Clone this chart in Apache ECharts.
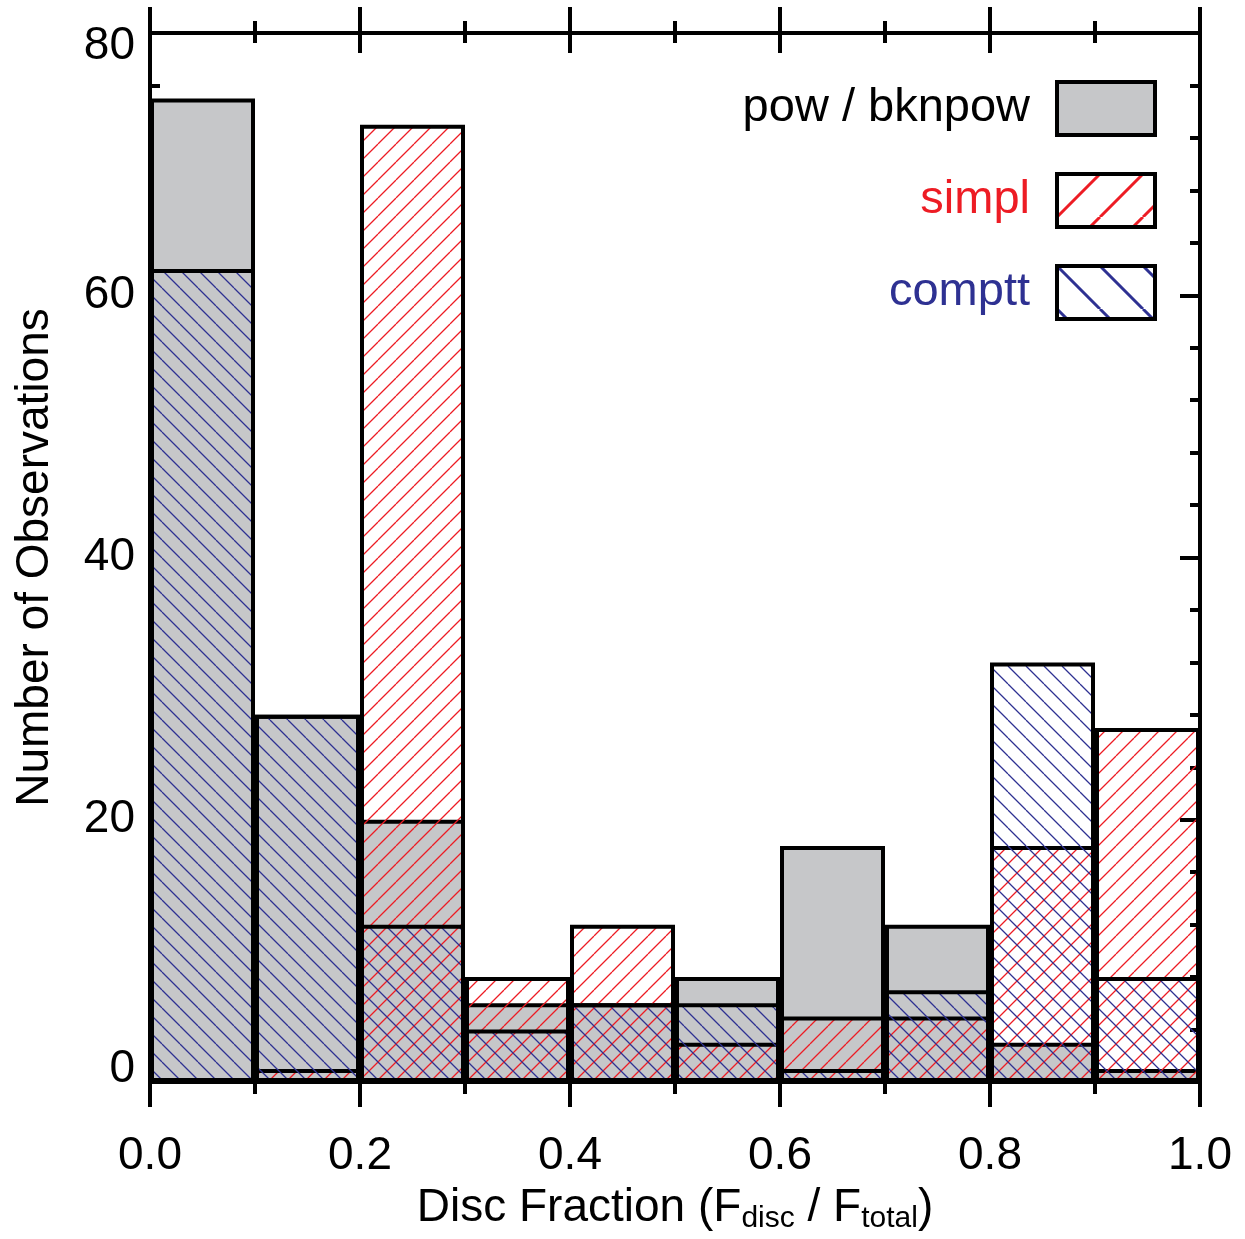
<!DOCTYPE html>
<html>
<head>
<meta charset="utf-8">
<script src="https://cdn.jsdelivr.net/npm/echarts@6/dist/echarts.min.js"></script>
<style>
html, body { margin: 0; padding: 0; background: #fff; }
#main { width: 1245px; height: 1239px; }
</style>
</head>
<body>
<div id="main"></div>
<script>
// histogram bins 0.0 - 1.0, step 0.1
var bins = ['0.0', '0.1', '0.2', '0.3', '0.4', '0.5', '0.6', '0.7', '0.8', '0.9'];
var powData = [75, 28, 20, 6, 6, 8, 18, 12, 3, 1];
var simplData = [0, 1, 73, 8, 12, 3, 5, 5, 18, 27];
var compttData = [62, 28, 12, 4, 6, 6, 1, 7, 32, 8];
var seriesNames = ['pow / bknpow', 'simpl', 'comptt'];

var GRAY = '#c6c7c9';
var RED = '#ed1c24';
var BLUE = '#2e3192';
var FONT = 'Liberation Sans';

// diagonal hatch pattern, dir 1 = '/', dir -1 = '\'
function hatch(color, step, width, dir) {
    var c = document.createElement('canvas');
    c.width = step;
    c.height = step;
    var ctx = c.getContext('2d');
    ctx.strokeStyle = color;
    ctx.lineWidth = width;
    ctx.beginPath();
    for (var k = -1; k <= 1; k++) {
        if (dir > 0) {
            ctx.moveTo(k * step, step);
            ctx.lineTo(k * step + step, 0);
        } else {
            ctx.moveTo(k * step, 0);
            ctx.lineTo(k * step + step, step);
        }
    }
    ctx.stroke();
    return { image: c, repeat: 'repeat' };
}

var dom = document.getElementById('main');
var myChart = echarts.init(dom);
var option = null;

var tickStyle = { width: 4, color: '#000' };

option = {
    animation: false,
    backgroundColor: '#fff',
    textStyle: { fontFamily: FONT },
    grid: { left: 150, right: 45, top: 33, bottom: 155 },
    legend: {
        orient: 'vertical',
        right: 88,
        top: 80,
        padding: 0,
        align: 'right',
        itemWidth: 98,
        itemHeight: 53,
        itemGap: 35,
        selectedMode: false,
        textStyle: { fontSize: 47, fontFamily: FONT, padding: [0, 22, 0, 0] },
        data: [
            { name: seriesNames[0], icon: 'rect', textStyle: { color: '#000' },
              itemStyle: { color: GRAY, borderColor: '#000', borderWidth: 4 } },
            { name: seriesNames[1], icon: 'rect', textStyle: { color: RED },
              itemStyle: { color: hatch(RED, 43, 3, 1), borderColor: '#000', borderWidth: 4 } },
            { name: seriesNames[2], icon: 'rect', textStyle: { color: BLUE },
              itemStyle: { color: hatch(BLUE, 43, 3, -1), borderColor: '#000', borderWidth: 4 } }
        ]
    },
    xAxis: [
        {
            type: 'category',
            data: bins,
            show: false,
            boundaryGap: true
        },
        {
            type: 'value',
            position: 'bottom',
            min: 0,
            max: 1,
            interval: 0.2,
            axisLine: { onZero: false, lineStyle: { color: '#000', width: 4 } },
            axisTick: { inside: false, length: 25, lineStyle: tickStyle },
            minorTick: { show: true, splitNumber: 2, length: 12, lineStyle: tickStyle },
            splitLine: { show: false },
            axisLabel: {
                fontSize: 46, color: '#000', fontFamily: FONT, margin: 51,
                formatter: function (v) { return v.toFixed(1); }
            },
            name: '{a|Disc Fraction (F}{s|disc}{a| / F}{s|total}{a|)}',
            nameLocation: 'middle',
            nameGap: 100,
            nameTextStyle: {
                rich: {
                    a: { fontSize: 46, color: '#000', fontFamily: FONT },
                    s: { fontSize: 30, color: '#000', fontFamily: FONT, padding: [22, 0, 0, 0] }
                }
            }
        },
        {
            type: 'value',
            position: 'top',
            min: 0,
            max: 1,
            interval: 0.2,
            axisLine: { onZero: false, lineStyle: { color: '#000', width: 4 } },
            axisTick: { inside: false, length: 26, lineStyle: tickStyle },
            minorTick: { show: true, splitNumber: 2, length: 12, lineStyle: tickStyle },
            splitLine: { show: false },
            axisLabel: { show: false }
        },
        {
            type: 'value',
            position: 'top',
            min: 0,
            max: 1,
            interval: 0.2,
            axisLine: { show: false, onZero: false },
            axisTick: { inside: true, length: 20, lineStyle: tickStyle },
            minorTick: { show: true, splitNumber: 2, length: 10, lineStyle: tickStyle },
            splitLine: { show: false },
            axisLabel: { show: false }
        }
    ],
    yAxis: [
        {
            type: 'value',
            position: 'left',
            min: 0,
            max: 80,
            interval: 20,
            axisLine: { show: true, onZero: false, lineStyle: { color: '#000', width: 4 } },
            axisTick: { show: true, inside: true, length: 20, lineStyle: tickStyle },
            minorTick: { show: true, splitNumber: 5, length: 10, lineStyle: tickStyle },
            splitLine: { show: false },
            axisLabel: {
                fontSize: 46, color: '#000', fontFamily: FONT, margin: 15,
                formatter: function (v) {
                    if (v === 80) return '{hi|80}';
                    if (v === 0) return '{lo|0}';
                    return v;
                },
                rich: {
                    hi: { fontSize: 46, color: '#000', fontFamily: FONT, padding: [26, 0, 0, 0] },
                    lo: { fontSize: 46, color: '#000', fontFamily: FONT, padding: [0, 0, 26, 0] }
                }
            },
            name: 'Number of Observations',
            nameLocation: 'middle',
            nameGap: 92,
            nameTextStyle: { fontSize: 46, color: '#000', fontFamily: FONT }
        },
        {
            type: 'value',
            position: 'right',
            min: 0,
            max: 80,
            interval: 20,
            axisLine: { show: true, onZero: false, lineStyle: { color: '#000', width: 4 } },
            axisTick: { show: true, inside: true, length: 20, lineStyle: tickStyle },
            minorTick: { show: true, splitNumber: 5, length: 10, lineStyle: tickStyle },
            splitLine: { show: false },
            axisLabel: { show: false }
        }
    ],
    series: [
        {
            name: seriesNames[0],
            type: 'bar',
            xAxisIndex: 0,
            yAxisIndex: 0,
            data: powData,
            barGap: '-100%',
            barCategoryGap: '0%',
            itemStyle: { color: GRAY, borderColor: '#000', borderWidth: 4 },
            emphasis: { disabled: true }
        },
        {
            name: seriesNames[1],
            type: 'bar',
            xAxisIndex: 0,
            yAxisIndex: 0,
            data: simplData,
            barGap: '-100%',
            barCategoryGap: '0%',
            itemStyle: { color: hatch(RED, 18, 1.3, 1), borderColor: '#000', borderWidth: 4 },
            emphasis: { disabled: true }
        },
        {
            name: seriesNames[2],
            type: 'bar',
            xAxisIndex: 0,
            yAxisIndex: 0,
            data: compttData,
            barGap: '-100%',
            barCategoryGap: '0%',
            itemStyle: { color: hatch(BLUE, 18, 1.3, -1), borderColor: '#000', borderWidth: 4 },
            emphasis: { disabled: true }
        }
    ]
};

if (option && typeof option === "object") {
    myChart.setOption(option, true);
}
</script>
</body>
</html>
